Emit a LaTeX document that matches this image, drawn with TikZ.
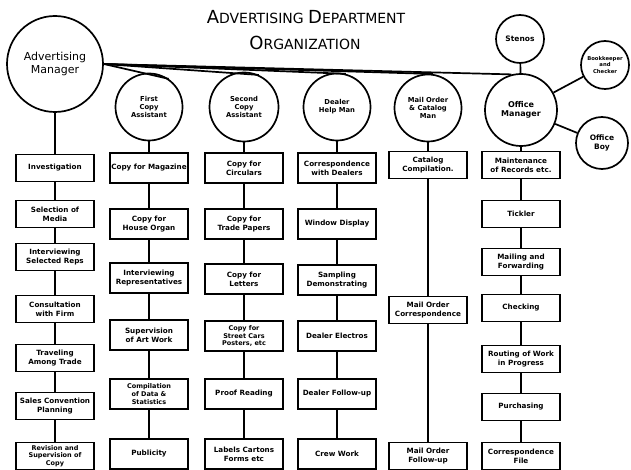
\documentclass[tikz,border=0pt]{standalone}
\usepackage{fontspec}
\setmainfont{DejaVu Sans}
\begin{document}
\begin{tikzpicture}[x=1pt,y=-1pt,
  conn/.style={line width=1.7pt},
  circ/.style={draw, circle, line width=1.7pt, inner sep=0pt, align=center,
    font=\bfseries\fontsize{6.8}{7.8}\selectfont},
  bx/.style={draw, rectangle, line width=1.7pt, minimum width=78pt,
    minimum height=27pt, inner sep=1pt, align=center,
    font=\bfseries\fontsize{7.2}{8.8}\selectfont},
  tall/.style={minimum height=30pt},
  small3/.style={font=\bfseries\fontsize{6.5}{7.6}\selectfont}]
\useasboundingbox (0,0) rectangle (631,470);

% title
\node (t1) at (306,17) {\fontsize{18}{18}\selectfont A\fontsize{14}{14}\selectfont DVERTISING
  \fontsize{18}{18}\selectfont D\fontsize{14}{14}\selectfont EPARTMENT};
\node (t2) at (305,43) {\fontsize{18}{18}\selectfont O\fontsize{14}{14}\selectfont RGANIZATION};

% circles
\node[circ, minimum size=96pt, font=\fontsize{11}{13}\selectfont] (am) at (55,64) {Advertising\\Manager};
\node[circ, minimum size=67pt] (fca) at (149,107) {First\\Copy\\Assistant};
\node[circ, minimum size=69pt] (sca) at (244,107) {Second\\Copy\\Assistant};
\node[circ, minimum size=67pt] (dch) at (337,107) {Dealer\\Help Man};
\node[circ, minimum size=67pt] (moc) at (428,108) {Mail Order\\\& Catalog\\Man};
\node[circ, minimum size=72pt, font=\bfseries\fontsize{8}{9.5}\selectfont] (om) at (521,110) {Office\\Manager};
\node[circ, minimum size=48pt, font=\bfseries\fontsize{7.5}{8.5}\selectfont] (st) at (520,39) {Stenos};
\node[circ, minimum size=48pt, font=\bfseries\fontsize{5.3}{6.3}\selectfont] (bk) at (605,65) {Bookkeeper\\and\\Checker};
\node[circ, minimum size=52pt, font=\bfseries\fontsize{7.5}{8.5}\selectfont] (ob) at (602,143) {Office\\Boy};

% column 1
\node[bx] (a1) at (55,168) {Investigation};
\node[bx] (a2) at (55,214) {Selection of\\Media};
\node[bx] (a3) at (55,257) {Interviewing\\Selected Reps};
\node[bx] (a4) at (55,309) {Consultation\\with Firm};
\node[bx] (a5) at (55,358) {Traveling\\Among Trade};
\node[bx] (a6) at (55,406) {Sales Convention\\Planning};
\node[bx, small3] (a7) at (55,456) {Revision and\\Supervision of\\Copy};

% column 2
\node[bx,tall] (b1) at (149,168) {Copy for Magazine};
\node[bx,tall] (b2) at (149,224) {Copy for\\House Organ};
\node[bx,tall] (b3) at (149,278) {Interviewing\\Representatives};
\node[bx,tall] (b4) at (149,335) {Supervision\\of Art Work};
\node[bx,tall,small3] (b5) at (149,394) {Compilation\\of Data \&\\Statistics};
\node[bx,tall] (b6) at (149,454) {Publicity};

% column 3
\node[bx,tall] (c1) at (244,168) {Copy for\\Circulars};
\node[bx,tall] (c2) at (244,224) {Copy for\\Trade Papers};
\node[bx,tall] (c3) at (244,279) {Copy for\\Letters};
\node[bx,tall,small3] (c4) at (244,336) {Copy for\\Street Cars\\Posters, etc};
\node[bx,tall] (c5) at (244,394) {Proof Reading};
\node[bx,tall] (c6) at (244,454) {Labels Cartons\\Forms etc};

% column 4
\node[bx,tall] (d1) at (337,168) {Correspondence\\with Dealers};
\node[bx,tall] (d2) at (337,224) {Window Display};
\node[bx,tall] (d3) at (337,280) {Sampling\\Demonstrating};
\node[bx,tall] (d4) at (337,336) {Dealer Electros};
\node[bx,tall] (d5) at (337,394) {Dealer Follow-up};
\node[bx,tall] (d6) at (337,454) {Crew Work};

% column 5
\node[bx] (e1) at (428,165) {Catalog\\Compilation.};
\node[bx] (e2) at (428,310) {Mail Order\\Correspondence};
\node[bx] (e3) at (428,456) {Mail Order\\Follow-up};

% column 6
\node[bx] (f1) at (521,165) {Maintenance\\of Records etc.};
\node[bx] (f2) at (521,214) {Tickler};
\node[bx] (f3) at (521,262) {Mailing and\\Forwarding};
\node[bx] (f4) at (521,308) {Checking};
\node[bx] (f5) at (521,359) {Routing of Work\\in Progress};
\node[bx] (f6) at (521,407) {Purchasing};
\node[bx] (f7) at (521,456) {Correspondence\\File};

% fan of lines from Advertising Manager
\draw[conn] (am.east) -- (fca.55);
\draw[conn] (am.east) -- (sca.65);
\draw[conn] (am.east) -- (dch.75);
\draw[conn] (am.east) -- (moc.82);
\draw[conn] (am.east) -- (om.105);

% office manager satellites
\draw[conn] (om) -- (st);
\draw[conn] (om) -- (bk);
\draw[conn] (om) -- (ob);

% vertical chains
\foreach \u/\v in {am/a1,a1/a2,a2/a3,a3/a4,a4/a5,a5/a6,a6/a7,
                   fca/b1,b1/b2,b2/b3,b3/b4,b4/b5,b5/b6,
                   sca/c1,c1/c2,c2/c3,c3/c4,c4/c5,c5/c6,
                   dch/d1,d1/d2,d2/d3,d3/d4,d4/d5,d5/d6,
                   moc/e1,e1/e2,e2/e3,
                   om/f1,f1/f2,f2/f3,f3/f4,f4/f5,f5/f6,f6/f7}
  \draw[conn] (\u) -- (\v);
\end{tikzpicture}
\end{document}
